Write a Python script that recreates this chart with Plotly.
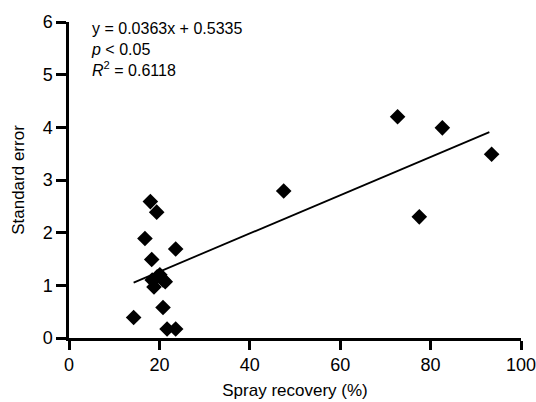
import plotly.graph_objects as go

recovery = [14.3, 18.0, 19.4, 16.8, 23.6, 18.3, 20.1, 20.8, 21.3, 18.4, 18.8, 19.5,
            20.8, 21.7, 23.6, 47.5, 72.7, 82.6, 93.5, 77.5]
std_err = [0.39, 2.59, 2.39, 1.89, 1.69, 1.49, 1.20, 1.10, 1.07, 1.10, 0.97, 1.16,
           0.58, 0.17, 0.17, 2.79, 4.20, 3.99, 3.49, 2.30]
slope = 0.0363
intercept = 0.5335
fit_x = [min(recovery), 93.0]
fit_y = [slope * v + intercept for v in fit_x]

FONT = "Liberation Sans, Arial, sans-serif"

fig = go.Figure()
fig.add_trace(go.Scatter(x=fit_x, y=fit_y, mode="lines",
                         line=dict(color="black", width=1.8), showlegend=False))
fig.add_trace(go.Scatter(x=recovery, y=std_err, mode="markers",
                         marker=dict(symbol="diamond", size=12, color="black"),
                         showlegend=False))

fig.add_annotation(x=0, y=1, xref="paper", yref="paper", xanchor="left", yanchor="top",
                   xshift=20, yshift=4, align="left", showarrow=False,
                   text="y = 0.0363x + 0.5335<br><i>p</i> < 0.05<br><i>R</i><sup>2</sup> = 0.6118",
                   font=dict(family=FONT, size=16, color="black"))

fig.update_layout(
    width=536, height=402,
    margin=dict(l=69, r=15, t=22, b=64),
    plot_bgcolor="white", paper_bgcolor="white",
    font=dict(family=FONT, size=18, color="black"),
    xaxis=dict(range=[0, 100], tickvals=[0, 20, 40, 60, 80, 100], showgrid=False,
               zeroline=False, showline=True, linecolor="black", linewidth=2.5,
               ticks="outside", ticklen=9, tickwidth=3, tickcolor="black",
               automargin=False, ticklabeloverflow="allow",
               title=dict(text="Spray recovery (%)", standoff=10, font=dict(size=17))),
    yaxis=dict(range=[0, 6], tickvals=[0, 1, 2, 3, 4, 5, 6], showgrid=False,
               zeroline=False, showline=True, linecolor="black", linewidth=2.5,
               ticks="outside", ticklen=10, tickwidth=3, tickcolor="black",
               automargin=False, ticklabeloverflow="allow",
               title=dict(text="Standard error", standoff=14, font=dict(size=17))),
)
fig.write_html("out.html", config={"displayModeBar": False},
               post_script="document.body.style.margin='0px';")
